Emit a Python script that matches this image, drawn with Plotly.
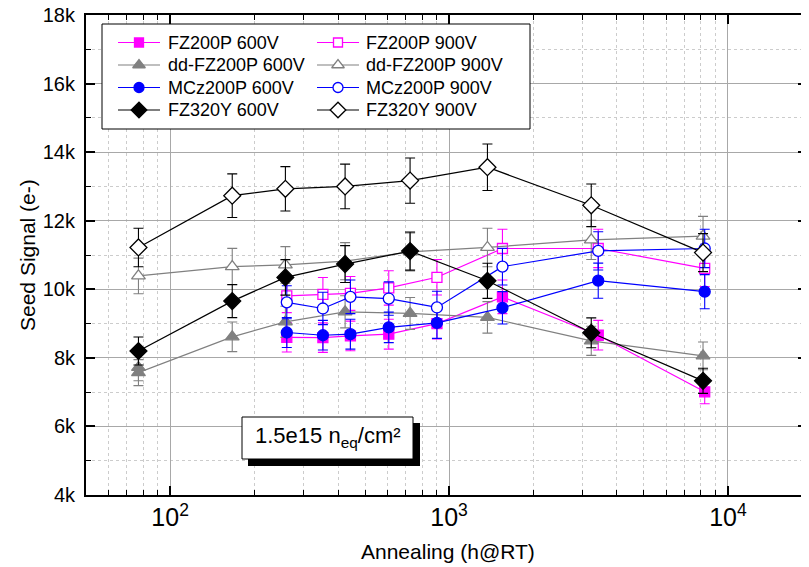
import plotly.graph_objects as go

# ---------------- data ----------------
t_a = [77, 167, 259, 424, 725, 1373, 3235, 8140]          # FZ320Y / dd-FZ200P annealing times (h)
t_dd600 = [77, 77, 167, 259, 424, 725, 1373, 3235, 8140]  # dd-FZ200P 600V (duplicate first point)
t_b = [262, 353, 443, 608, 905, 1554, 3427, 8253]          # FZ200P / MCz200P annealing times (h)

fz200p_600 = [8600, 8590, 8640, 8690, 9000, 9780, 8660, 7010]
fz200p_900 = [9810, 9850, 9880, 10040, 10350, 11190, 11190, 10610]
dd_600 = [7720, 7570, 8613, 9051, 9343, 9296, 9180, 8496, 8058]
dd_900 = [10390, 10660, 10710, 10820, 11090, 11220, 11440, 11550]
mcz_600 = [8740, 8660, 8690, 8890, 9020, 9460, 10250, 9930]
mcz_900 = [9620, 9440, 9780, 9730, 9470, 10660, 11120, 11190]
fz320y_600 = [8200, 9655, 10347, 10736, 11115, 10248, 8730, 7330]
fz320y_900 = [11220, 12730, 12930, 13000, 13170, 13560, 12450, 11070]

err_percent = 5

names = ["FZ200P 600V", "FZ200P 900V", "dd-FZ200P 600V", "dd-FZ200P 900V",
         "MCz200P 600V", "MCz200P 900V", "FZ320Y 600V", "FZ320Y 900V"]

y_ticks = [4000, 6000, 8000, 10000, 12000, 14000, 16000, 18000]
y_ticktext = ["4k", "6k", "8k", "10k", "12k", "14k", "16k", "18k"]

# ---------------- geometry (screen pixels; page body has an 8px margin) ----------------
PAGE_OFF = 8
SCREEN_W, SCREEN_H = 809, 567
PX0, PX1, PY0, PY1 = 86, 807, 15, 495          # plot area on screen
W, H = SCREEN_W - PAGE_OFF, SCREEN_H - PAGE_OFF
L, T = PX0 - PAGE_OFF, PY0 - PAGE_OFF
R, B = W - (PX1 - PAGE_OFF), H - (PY1 - PAGE_OFF)

FONT = "Liberation Sans, Arial, sans-serif"
MAG, GRY, BLU, BLK = "#ff00ff", "#808080", "#0000ff", "#000000"

series = [
    (t_b, fz200p_600, names[0], MAG, "square", True, 10),
    (t_b, fz200p_900, names[1], MAG, "square", False, 10),
    (t_dd600, dd_600, names[2], GRY, "triangle-up", True, 12),
    (t_a, dd_900, names[3], GRY, "triangle-up", False, 12),
    (t_b, mcz_600, names[4], BLU, "circle", True, 11),
    (t_b, mcz_900, names[5], BLU, "circle", False, 11),
    (t_a, fz320y_600, names[6], BLK, "diamond", True, 13),
    (t_a, fz320y_900, names[7], BLK, "diamond", False, 13),
]

fig = go.Figure()
for x, y, nm, col, sym, filled, sz in series:
    fig.add_trace(go.Scatter(
        x=x, y=y, name=nm, mode="lines+markers", showlegend=False,
        line=dict(color=col, width=1.2),
        marker=dict(symbol=sym, size=sz,
                    color=col if filled else "white",
                    line=dict(color=col, width=1.3)),
        error_y=dict(type="percent", value=err_percent, color=col,
                     thickness=1.1, width=5),
    ))

# ---------------- legend (drawn on a screen-pixel overlay) ----------------
LEG_BOX = (102, 530, 24, 129)                    # x0, x1, y0, y1
LEG_COLS = [(118, 160, 166), (317, 359, 364)]    # line start, line end, text start
LEG_ROWS = [42.5, 65, 87.5, 110]

fig.add_trace(go.Scatter(
    x=[LEG_BOX[0], LEG_BOX[1], LEG_BOX[1], LEG_BOX[0], LEG_BOX[0]],
    y=[LEG_BOX[2], LEG_BOX[2], LEG_BOX[3], LEG_BOX[3], LEG_BOX[2]],
    mode="lines", fill="toself", fillcolor="white",
    line=dict(color="black", width=1), xaxis="x2", yaxis="y2",
    hoverinfo="skip", showlegend=False))

annotations = []
for i, (x, y, nm, col, sym, filled, sz) in enumerate(series):
    row = LEG_ROWS[i // 2]
    lx0, lx1, tx = LEG_COLS[i % 2]
    fig.add_trace(go.Scatter(
        x=[lx0, lx1], y=[row, row], mode="lines",
        line=dict(color=col, width=1.2), xaxis="x2", yaxis="y2",
        hoverinfo="skip", showlegend=False))
    fig.add_trace(go.Scatter(
        x=[(lx0 + lx1) / 2], y=[row], mode="markers",
        marker=dict(symbol=sym, size=sz - 1,
                    color=col if filled else "white",
                    line=dict(color=col, width=1.3)),
        xaxis="x2", yaxis="y2", hoverinfo="skip", showlegend=False))
    annotations.append(dict(
        xref="x2", yref="y2", x=tx, y=row, text=nm, showarrow=False,
        xanchor="left", yanchor="middle",
        font=dict(family=FONT, size=18, color="black")))

def px2paper_x(px):
    return (px - PX0) / (PX1 - PX0)

def px2paper_y(py):
    return (PY1 - py) / (PY1 - PY0)

grid_major = "#a8a8a8"
grid_minor = "#cccccc"

fig.update_layout(
    width=W, height=H,
    margin=dict(l=L, r=R, t=T, b=B, pad=0),
    paper_bgcolor="white", plot_bgcolor="white",
    font=dict(family=FONT, size=20, color="black"),
    showlegend=False,
    xaxis=dict(
        type="log", range=[1.6984, 4.2834], automargin=False,
        dtick=1, exponentformat="power", showexponent="all",
        showline=True, linecolor="black", linewidth=2, mirror="ticks",
        ticks="inside", ticklen=9, tickwidth=1.5, tickcolor="black",
        showgrid=True, gridcolor=grid_major, gridwidth=1,
        zeroline=False, ticklabeloverflow="allow",
        tickfont=dict(family=FONT, size=20),
        minor=dict(dtick="D1", showgrid=True, gridcolor=grid_minor, griddash="3px,3px",
                   gridwidth=1, ticks="inside", ticklen=5, tickcolor="black", tickwidth=1),
    ),
    yaxis=dict(
        range=[4000, 18000], automargin=False,
        tickvals=y_ticks, ticktext=y_ticktext,
        showline=True, linecolor="black", linewidth=2, mirror="ticks",
        ticks="inside", ticklen=9, tickwidth=1.5, tickcolor="black",
        showgrid=True, gridcolor=grid_major, gridwidth=1,
        zeroline=False, ticklabeloverflow="allow",
        tickfont=dict(family=FONT, size=20),
        ticklabelstandoff=5,
        minor=dict(dtick=1000, showgrid=True, gridcolor=grid_minor, griddash="3px,3px",
                   gridwidth=1, ticks="inside", ticklen=5, tickcolor="black", tickwidth=1),
    ),
    xaxis2=dict(overlaying="x", anchor="y2", range=[PX0, PX1], visible=False,
                fixedrange=True, automargin=False),
    yaxis2=dict(overlaying="y", anchor="x2", range=[PY1, PY0], visible=False,
                fixedrange=True, automargin=False),
)

# axis titles
annotations.append(dict(xref="paper", yref="paper", x=px2paper_x(448), y=px2paper_y(551),
                        text="Annealing (h@RT)", showarrow=False, xanchor="center", yanchor="middle",
                        font=dict(family=FONT, size=21, color="black")))
annotations.append(dict(xref="paper", yref="paper", x=px2paper_x(27), y=px2paper_y(255),
                        text="Seed Signal (e-)", showarrow=False, textangle=-90,
                        xanchor="center", yanchor="middle",
                        font=dict(family=FONT, size=21, color="black")))

# fluence label box with drop shadow
fig.add_shape(type="rect", xref="paper", yref="paper",
              x0=px2paper_x(248), x1=px2paper_x(420), y0=px2paper_y(466), y1=px2paper_y(423),
              fillcolor="black", line=dict(color="black", width=0), layer="above")
fig.add_shape(type="rect", xref="paper", yref="paper",
              x0=px2paper_x(242), x1=px2paper_x(413), y0=px2paper_y(459), y1=px2paper_y(417),
              fillcolor="white", line=dict(color="black", width=1), layer="above")
annotations.append(dict(xref="paper", yref="paper",
                        x=px2paper_x(327.5), y=px2paper_y(437),
                        text="1.5e15 n<sub>eq</sub>/cm²", showarrow=False,
                        font=dict(family=FONT, size=22, color="black"),
                        xanchor="center", yanchor="middle"))

fig.update_layout(annotations=annotations)
fig.write_html("out.html")
